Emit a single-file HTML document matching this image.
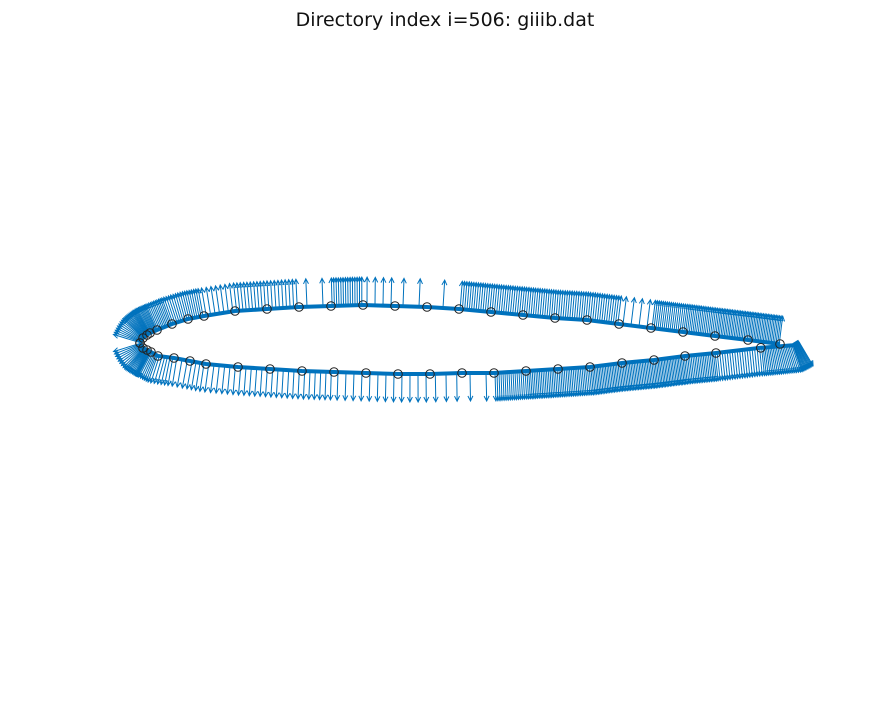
<!DOCTYPE html>
<html><head><meta charset="utf-8"><style>
html,body{margin:0;padding:0;background:#fff;}
svg{display:block;}
</style></head><body>
<svg id="chart" width="891" height="703" viewBox="0 0 891 703" xmlns="http://www.w3.org/2000/svg">
<text x="445" y="26" text-anchor="middle" font-family="DejaVu Sans, sans-serif" font-size="19" fill="#111">Directory index i=506: giiib.dat</text>
<g id="arrows"></g>
<g id="curve"></g>
<g id="pts"></g>
</svg>
<script>
// chord-normalised airfoil coordinates (x along chord, y thickness)
const upperX = [0,0.0047,0.0109,0.0156,0.0266,0.05,0.075,0.1,0.1484,0.1984,0.2484,0.2984,0.3484,0.3984,0.4484,0.4984,0.5484,0.5984,0.6484,0.6984,0.7484,0.7984,0.8484,0.8984,0.95,1.0];
const upperY = [0.0016,0.0094,0.0141,0.0172,0.0219,0.0313,0.0391,0.0438,0.0516,0.0547,0.0578,0.0594,0.0609,0.0594,0.0578,0.0547,0.05,0.0453,0.0406,0.0375,0.0313,0.025,0.0188,0.0125,0.0063,0.0];
const lowerX = [0,0.0047,0.0109,0.0172,0.0281,0.0531,0.0781,0.1031,0.1531,0.2031,0.2531,0.3031,0.3531,0.4031,0.4531,0.5031,0.5531,0.6031,0.6531,0.7031,0.7531,0.8031,0.8516,0.9,0.97,1.02,1.03];
const lowerY = [0.0016,-0.0063,-0.0094,-0.0125,-0.0188,-0.0219,-0.0266,-0.0313,-0.0359,-0.0391,-0.0422,-0.0438,-0.0453,-0.0469,-0.0469,-0.0453,-0.0453,-0.0422,-0.0391,-0.0359,-0.0297,-0.025,-0.0188,-0.0141,-0.006,-0.002,0.004];
// number of normal vectors drawn per segment
const upperArrows = [8,8,6,8,10,8,8,7,10,9,2,14,4,2,1,14,14,14,14,14,4,16,18,20,20];
const lowerArrows = [8,8,6,6,6,3,4,6,6,6,6,4,4,4,3,2,16,18,18,20,20,20,18,18,20,12];

const X0=140, SX=640, Y0=344, SY=640, LEN=28, COL="#0072BD";
const sx = x => X0 + x*SX;
const sy = y => Y0 - y*SY;
const NS="http://www.w3.org/2000/svg";
const gA=document.getElementById('arrows'), gC=document.getElementById('curve'), gP=document.getElementById('pts');

function vertexNormals(xs, ys, sign){
  const segN=[];
  for(let i=0;i<xs.length-1;i++){
    const dx=sx(xs[i+1])-sx(xs[i]), dy=sy(ys[i+1])-sy(ys[i]), L=Math.hypot(dx,dy)||1;
    segN.push([sign*dy/L, -sign*dx/L]);
  }
  const vn=[];
  for(let i=0;i<xs.length;i++){
    let a=segN[Math.max(0,i-1)], b=segN[Math.min(segN.length-1,i)];
    if(i===0) a=[-1,0];
    let nx=a[0]+b[0], ny=a[1]+b[1], L=Math.hypot(nx,ny)||1;
    vn.push([nx/L, ny/L]);
  }
  return vn;
}

function drawSurface(xs, ys, counts, sign, name){
  let d='';
  for(let i=0;i<xs.length;i++){ d += (i?'L':'M')+sx(xs[i]).toFixed(1)+','+sy(ys[i]).toFixed(1); }
  const p=document.createElementNS(NS,'path');
  p.setAttribute('d',d); p.setAttribute('fill','none'); p.setAttribute('stroke',COL); p.setAttribute('stroke-width','4');
  
  
  gC.appendChild(p);
  const vn=vertexNormals(xs,ys,sign);
  for(let i=0;i<xs.length-1;i++){
    const ax=sx(xs[i]), ay=sy(ys[i]), bx=sx(xs[i+1]), by=sy(ys[i+1]);
    const dx=bx-ax, dy=by-ay;
    const n=counts[i]||0;
    for(let k=0;k<n;k++){
      const t=(k+0.5)/n, px=ax+dx*t, py=ay+dy*t;
      let nx=vn[i][0]*(1-t)+vn[i+1][0]*t, ny=vn[i][1]*(1-t)+vn[i+1][1]*t;
      const L=Math.hypot(nx,ny)||1; nx/=L; ny/=L;
      const ex=px+nx*LEN, ey=py+ny*LEN;
      const hx=-nx*5, hy=-ny*5, qx=-ny*2.5, qy=nx*2.5;
      const a=document.createElementNS(NS,'path');
      a.setAttribute('d',`M${px.toFixed(1)},${py.toFixed(1)}L${ex.toFixed(1)},${ey.toFixed(1)}M${(ex+hx+qx).toFixed(1)},${(ey+hy+qy).toFixed(1)}L${ex.toFixed(1)},${ey.toFixed(1)}L${(ex+hx-qx).toFixed(1)},${(ey+hy-qy).toFixed(1)}`);
      a.setAttribute('stroke',COL); a.setAttribute('stroke-width','1'); a.setAttribute('fill','none');
      
      
      gA.appendChild(a);
    }
  }
  for(let i=0;i<xs.length;i++){
    if(xs[i]>1.0) continue;
    const c=document.createElementNS(NS,'circle');
    c.setAttribute('cx',sx(xs[i]).toFixed(1)); c.setAttribute('cy',sy(ys[i]).toFixed(1)); c.setAttribute('r','4.3');
    c.setAttribute('fill','none'); c.setAttribute('stroke','#222'); c.setAttribute('stroke-width','1');
    
    
    gP.appendChild(c);
  }
}
drawSurface(upperX, upperY, upperArrows, 1, 'upper-surface');
drawSurface(lowerX, lowerY, lowerArrows, -1, 'lower-surface');
</script>
</body></html>
